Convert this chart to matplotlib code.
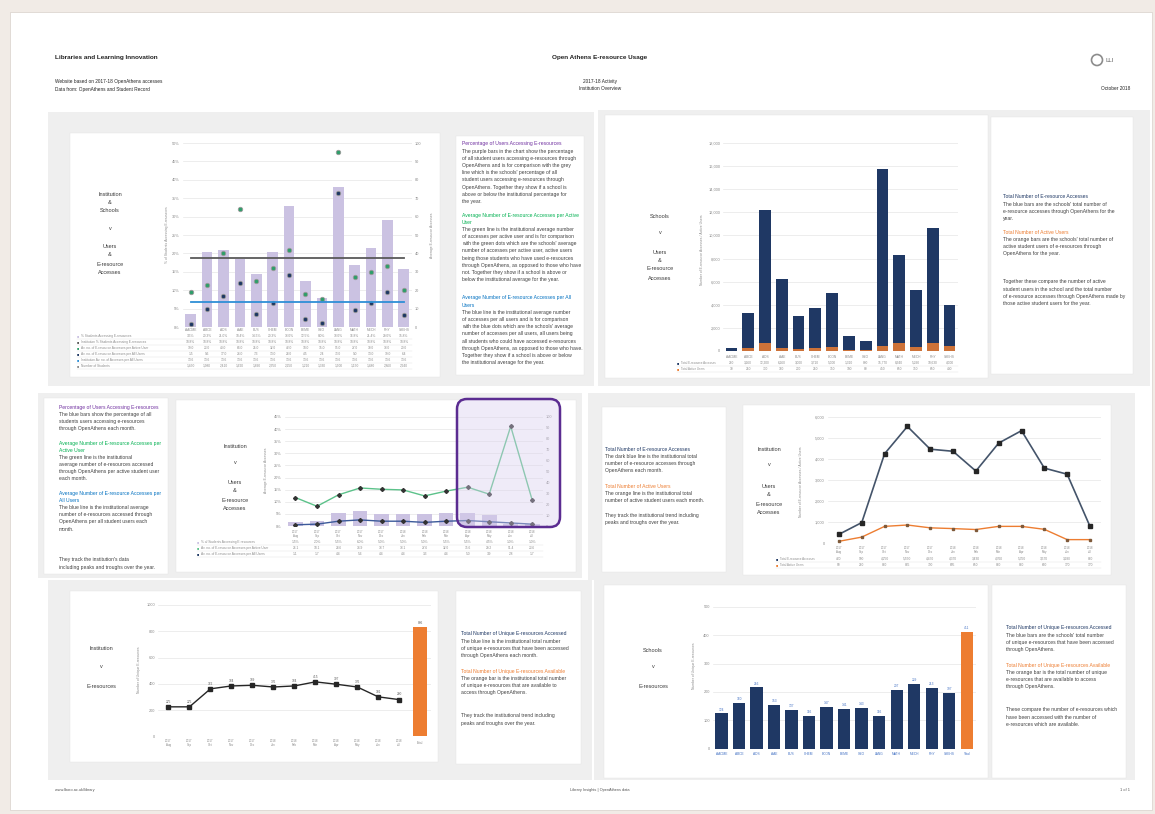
# OpenAthens e-resource usage dashboard, 2017-18.
# Six small panels on one page, each a chart card plus a text card.

import textwrap
import matplotlib
matplotlib.use('Agg')
import matplotlib.pyplot as plt
from matplotlib import transforms
from matplotlib.patches import Rectangle, FancyBboxPatch, Circle
from matplotlib.lines import Line2D

plt.rcParams['font.family'] = ['Liberation Sans', 'DejaVu Sans']

# ---- data ----
schools = ['AACME', 'ABCE', 'ADS', 'AAE', 'BUS', 'CHEM', 'ECON', 'EEME',
           'GEO', 'LANG', 'MATH', 'MECH', 'PHY', 'SSEHS']
# % of students accessing e-resources (bars, left axis)
pct_users = [3.5, 20.3, 21.0, 18.4, 14.5, 20.3, 33.0, 12.5, 8.0, 38.0, 16.8, 21.4, 29.0, 15.8]
inst_pct = 18.8
# average accesses per active user / per all users (markers, right axis)
acc_active = [19, 23, 40, 64, 25, 32, 42, 18, 15, 95, 27, 30, 33, 20]
acc_all = [1.5, 9.6, 17, 24, 7.3, 13, 28, 4.5, 2.4, 73, 9, 13, 19, 6.4]
inst_all = 13.6
students = [1450, 1980, 2410, 1620, 1890, 2350, 2250, 1210, 1330, 1900, 1150, 1480, 2860, 2940]

# schools: total accesses and active users
school_accesses = [290, 3260, 12200, 6260, 3000, 3710, 5000, 1310, 830, 15770, 8340, 5290, 10630, 4000]
school_users = [30, 250, 700, 300, 200, 250, 350, 100, 80, 450, 650, 350, 650, 400]

# months
months = ['Aug', 'Sep', 'Oct', 'Nov', 'Dec', 'Jan', 'Feb', 'Mar', 'Apr', 'May', 'Jun', 'Jul']
years = ['2017'] * 5 + ['2018'] * 7
m_pct = [1.5, 2.0, 5.5, 6.0, 5.0, 5.0, 5.0, 5.5, 5.5, 4.5, 1.0, 1.0]
m_active = [26.1, 18.1, 28.6, 34.9, 33.7, 33.1, 27.6, 32.0, 35.6, 29.2, 91.4, 23.6]
m_all = [1.1, 1.7, 4.4, 5.6, 4.4, 4.4, 3.3, 4.4, 5.0, 3.9, 2.8, 1.7]
m_accesses = [420, 980, 4250, 5550, 4470, 4370, 3430, 4760, 5350, 3570, 3280, 800]
m_users = [90, 290, 800, 865, 730, 695, 650, 800, 800, 660, 170, 170]

# unique e-resources
m_unique = [225, 225, 362, 384, 389, 376, 384, 415, 397, 376, 301, 280]
total_available = 836
s_unique = [124, 160, 216, 153, 137, 116, 147, 141, 143, 116, 207, 229, 213, 197]
s_total = 411

# colours
PURPLE = '#7030a0'
GREEN = '#00b050'
BLUE = '#0070c0'
NAVY = '#1f3864'
ORANGE = '#ed7d31'
LAV = '#cbc2e2'
BODY = '#404040'
TICK = '#8a8a8a'

W, H = 1155, 814
fig = plt.figure(figsize=(W / 100, H / 100), dpi=100)
fig.patch.set_facecolor('#f1ebe6')


def box(x0, y0, x1, y1, fc, ec='none', z=-5, lw=0.5):
    fig.add_artist(Rectangle((x0 / W, 1 - y1 / H), (x1 - x0) / W, (y1 - y0) / H,
                             transform=fig.transFigure, fc=fc, ec=ec, lw=lw, zorder=z))


def add_ax(x0, y0, x1, y1):
    return fig.add_axes([x0 / W, 1 - y1 / H, (x1 - x0) / W, (y1 - y0) / H])


def txt(x, y, s, size=3.6, color=BODY, ha='left', weight='normal', rot=0):
    fig.text(x / W, 1 - y / H, s, fontsize=size, color=color, ha=ha, va='center',
             fontweight=weight, rotation=rot)


def block(x, y, heading, body, hcolor, width, lh=7.2):
    # heading then wrapped body text, returns next y
    for line in textwrap.wrap(heading, width):
        txt(x, y, line, color=hcolor)
        y += lh
    for line in textwrap.wrap(body, width):
        txt(x, y, line)
        y += lh
    return y


def para(x, y, body, width, lh=7.2):
    for line in textwrap.wrap(body, width):
        txt(x, y, line)
        y += lh


def side(x, items):
    for y, s in items:
        txt(x, y, s, size=4, color='#3a3a3a', ha='center')


def style(ax, grid=True):
    for s in ax.spines.values():
        s.set_visible(False)
    ax.tick_params(length=0, labelsize=2.8, labelcolor=TICK, pad=2)
    ax.set_facecolor('none')
    ax.set_xticks([])
    if grid:
        ax.yaxis.grid(True, color='#e6e6e6', lw=0.5)
        ax.set_axisbelow(True)


def table(ax, rows, ys, label_x, right_x, lsize=2.3):
    tr = transforms.blended_transform_factory(ax.transData, fig.transFigure)
    for (label, vals, fmt, col), y in zip(rows, ys):
        txt(label_x, y, '\u25a0', size=2.6, color=col)
        txt(label_x + 4, y, label, size=lsize, color=TICK)
        for i, v in enumerate(vals):
            ax.text(i, 1 - y / H, fmt.format(v), transform=tr, fontsize=2.3, color=TICK,
                    ha='center', va='center', clip_on=False)
        fig.add_artist(Line2D([label_x / W, right_x / W], [1 - (y + 3) / H] * 2,
                              transform=fig.transFigure, color='#e2e2e2', lw=0.3))


def cats(ax, y, labels, color=TICK, size=2.3):
    tr = transforms.blended_transform_factory(ax.transData, fig.transFigure)
    for i, s in enumerate(labels):
        ax.text(i, 1 - y / H, s, transform=tr, fontsize=size, color=color,
                ha='center', va='center', clip_on=False, linespacing=1.1)


# ---- page, grey panels, white cards ----
box(10, 12, 1152, 810, 'white', ec='#d8d0ca', z=-10)
for g in [(48, 112, 594, 386), (598, 110, 1150, 386), (38, 393, 582, 578),
          (588, 393, 1135, 580), (48, 580, 592, 780), (594, 580, 1135, 780)]:
    box(*g, '#efefef', z=-8)
for c in [(70, 133, 440, 377), (456, 136, 584, 375), (605, 115, 988, 378),
          (991, 117, 1133, 374), (44, 398, 168, 574), (176, 400, 576, 572),
          (602, 407, 726, 572), (743, 405, 1111, 575), (70, 591, 438, 762),
          (456, 591, 581, 764), (604, 585, 988, 778), (992, 585, 1126, 778)]:
    box(*c, 'white', ec='#e4e4e4', z=-6, lw=0.3)

# ---- header / footer ----
txt(55, 57, 'Libraries and Learning Innovation', size=4.6, color='#222', weight='bold')
txt(600, 57, 'Open Athens E-resource Usage', size=4.6, color='#222', ha='center', weight='bold')
txt(55, 82, 'Website based on 2017-18 OpenAthens accesses', size=3.4, color='#222')
txt(55, 89, 'Data from: OpenAthens and Student Record', size=3.4, color='#222')
txt(600, 82, '2017-18 Activity', size=3.4, color='#222', ha='center')
txt(600, 89, 'Institution Overview', size=3.4, color='#222', ha='center')
txt(1130, 89, 'October 2018', size=3.4, color='#222', ha='right')
fig.add_artist(Circle((1097 / 100, (H - 60) / 100), 0.055, transform=fig.dpi_scale_trans,
                      fc='white', ec='#8c8c8c', lw=1.2))
txt(1106, 60, 'LLI', size=4, color='#8c8c8c', weight='bold')
txt(55, 790, 'www.lboro.ac.uk/library', size=2.8, color='#555')
txt(600, 790, 'Library Insights | OpenAthens data', size=2.8, color='#555', ha='center')
txt(1130, 790, '1 of 1', size=2.8, color='#555', ha='right')

# ---- chart 1: schools, users & accesses ----
x = list(range(len(schools)))
ax1 = add_ax(182.5, 143, 412, 327)
ax1.bar(x, pct_users, width=0.65, color=LAV)
ax1.plot(x, [inst_pct] * len(x), color='#595959', lw=1.3)
ax1.set_xlim(-0.5, len(x) - 0.5)
ax1.set_ylim(0, 50)
ax1.set_yticks(range(0, 51, 5))
ax1.set_yticklabels([f'{t}%' for t in range(0, 51, 5)])
style(ax1)
ax1b = ax1.twinx()
ax1b.plot(x, acc_active, 'o', ms=3.2, mfc='#2e9e6a', mec='#9a9a9a', mew=0.6)
ax1b.plot(x, acc_all, 'o', ms=3.2, mfc=NAVY, mec='#9a9a9a', mew=0.6)
ax1b.plot(x, [inst_all] * len(x), color='#2e8fd6', lw=1.3)
ax1b.set_ylim(0, 100)
ax1b.set_yticks(range(0, 101, 10))
style(ax1b, grid=False)
txt(167, 235, '% of Students Accessing E-resources', size=2.4, color=TICK, ha='center', rot=90)
txt(432, 235, 'Average E-resource Accesses', size=2.4, color=TICK, ha='center', rot=90)
side(110, [(194, 'Institution'), (202, '&'), (210, 'Schools'), (228, 'v'),
           (247, 'Users'), (255, '&'), (265, 'E-resource'), (273, 'Accesses')])
cats(ax1, 330, schools)
rows1 = [('% Students Accessing E-resources', pct_users, '{:.1f}%', LAV),
         ('Institution % Students Accessing E-resources', [inst_pct] * 14, '{:.1f}%', '#595959'),
         ('Av. no. of E-resource Accesses per Active User', acc_active, '{:.1f}', '#2e9e6a'),
         ('Av. no. of E-resource Accesses per All Users', acc_all, '{:.1f}', NAVY),
         ('Institution Av. no. of Accesses per All Users', [inst_all] * 14, '{:.1f}', '#2e8fd6'),
         ('Number of Students', students, '{:,}', TICK)]
table(ax1, rows1, [336, 342, 348, 354, 360, 366], 77, 412)

# text card 1
block(462, 144, 'Percentage of Users Accessing E-resources',
      "The purple bars in the chart show the percentage of all student users accessing "
      "e-resources through OpenAthens and is for comparison with the grey line which is "
      "the schools' percentage of all student users accessing e-resources through "
      "OpenAthens. Together they show if a school is above or below the institutional "
      "percentage for the year.", PURPLE, 50)
block(462, 215, 'Average Number of E-resource Accesses per Active User',
      "The green line is the institutional average number of accesses per active user and "
      "is for comparison with the green dots which are the schools' average number of "
      "accesses per active user, active users being those students who have used "
      "e-resources through OpenAthens, as opposed to those who have not. Together they "
      "show if a school is above or below the institutional average for the year.", GREEN, 50)
block(462, 298, 'Average Number of E-resource Accesses per All Users',
      "The blue line is the institutional average number of accesses per all users and is "
      "for comparison with the blue dots which are the schools' average number of accesses "
      "per all users, all users being all students who could have accessed e-resources "
      "through OpenAthens, as opposed to those who have. Together they show if a school "
      "is above or below the institutional average for the year.", BLUE, 50)

# ---- chart 2: schools, accesses & active users ----
ax2 = add_ax(723, 143, 958, 351)
ax2.bar(x, school_accesses, width=0.7, color=NAVY)
ax2.bar(x, school_users, width=0.7, color=ORANGE, alpha=0.85)
ax2.set_xlim(-0.5, len(x) - 0.5)
ax2.set_ylim(0, 18000)
ax2.set_yticks(range(0, 18001, 2000))
ax2.set_yticklabels([f'{t:,}' for t in range(0, 18001, 2000)])
style(ax2)
txt(702, 250, 'Number of E-resource Accesses / Active Users', size=2.4, color=TICK, ha='center', rot=90)
side(660, [(216, 'Schools'), (233, 'v'), (252, 'Users'), (260, '&'),
           (269, 'E-resource'), (278, 'Accesses')])
cats(ax2, 357, schools)
rows2 = [('Total E-resource Accesses', school_accesses, '{:,}', NAVY),
         ('Total Active Users', school_users, '{:,}', ORANGE)]
table(ax2, rows2, [363, 369], 677, 958, lsize=2.1)

block(1003, 197, 'Total Number of E-resource Accesses',
      "The blue bars are the schools' total number of e-resource accesses through "
      "OpenAthens for the year.", NAVY, 49)
block(1003, 232, 'Total Number of Active Users',
      "The orange bars are the schools' total number of active student users of "
      "e-resources through OpenAthens for the year.", ORANGE, 49)
para(1003, 282, "Together these compare the number of active student users in the school and "
     "the total number of e-resource accesses through OpenAthens made by those active "
     "student users for the year.", 49)

# ---- chart 3: institution, monthly users & accesses ----
xm = list(range(len(months)))
ax3 = add_ax(284.7, 417, 543, 526)
ax3.bar(xm, m_pct, width=0.68, color=LAV)
ax3.set_xlim(-0.5, len(xm) - 0.5)
ax3.set_ylim(0, 45)
ax3.set_yticks(range(0, 46, 5))
ax3.set_yticklabels([f'{t}%' for t in range(0, 46, 5)])
style(ax3)
ax3b = ax3.twinx()
ax3b.plot(xm, m_active, color='#5cc28a', lw=1.0, marker='D', ms=2, mfc='#333', mec='#333')
ax3b.plot(xm, m_all, color='#3c5a9a', lw=1.0, marker='D', ms=2, mfc='#333', mec='#333')
ax3b.set_ylim(0, 100)
ax3b.set_yticks(range(0, 101, 10))
style(ax3b, grid=False)
txt(266, 470, 'Average E-resource Accesses', size=2.4, color=TICK, ha='center', rot=90)
side(235, [(447, 'Institution'), (462, 'v'), (483, 'Users'), (491, '&'),
           (500, 'E-resource'), (509, 'Accesses')])
cats(ax3, 534, [f'{yy}\n{mm}' for yy, mm in zip(years, months)], size=2.1)
rows3 = [('% of Students Accessing E-resources', m_pct, '{:.1f}%', LAV),
         ('Av. no. of E-resource Accesses per Active User', m_active, '{:.1f}', '#5cc28a'),
         ('Av. no. of E-resource Accesses per All Users', m_all, '{:.1f}', NAVY)]
table(ax3, rows3, [542, 548, 554], 197, 543)
# highlight round the June peak
fig.add_artist(FancyBboxPatch((457 / 100, (H - 527) / 100), 1.03, 1.28,
                              boxstyle='round,pad=0,rounding_size=0.1',
                              transform=fig.dpi_scale_trans, fc='#d9cfee', alpha=0.4,
                              ec='none', zorder=5))
fig.add_artist(FancyBboxPatch((457 / 100, (H - 527) / 100), 1.03, 1.28,
                              boxstyle='round,pad=0,rounding_size=0.1',
                              transform=fig.dpi_scale_trans, fc='none',
                              ec='#5b2c91', lw=1.8, zorder=6))

block(59, 407, 'Percentage of Users Accessing E-resources',
      "The blue bars show the percentage of all students users accessing e-resources "
      "through OpenAthens each month.", PURPLE, 42)
block(59, 443, 'Average Number of E-resource Accesses per Active User',
      "The green line is the institutional average number of e-resources accessed "
      "through OpenAthens per active student user each month.", GREEN, 42)
block(59, 493, 'Average Number of E-resource Accesses per All Users',
      "The blue line is the institutional average number of e-resources accessed "
      "through OpenAthens per all student users each month.", BLUE, 42)
para(59, 560, "They track the institution's data including peaks and troughs over the year.", 42)

# ---- chart 4: institution, monthly accesses & active users ----
ax4 = add_ax(827.5, 417, 1101.4, 543.2)
ax4.plot(xm, m_accesses, color='#44546a', lw=1.2, marker='s', ms=2.2, mfc='#262626', mec='#262626')
ax4.plot(xm, m_users, color=ORANGE, lw=1.0, marker='s', ms=2, mfc='#7f5a3a', mec='#7f5a3a')
ax4.set_xlim(-0.5, len(xm) - 0.5)
ax4.set_ylim(0, 6000)
ax4.set_yticks(range(0, 6001, 1000))
ax4.set_yticklabels([f'{t:,}' for t in range(0, 6001, 1000)])
style(ax4)
txt(801, 482, 'Number of E-resource Accesses / Active Users', size=2.4, color=TICK, ha='center', rot=90)
side(769, [(449, 'Institution'), (465, 'v'), (486, 'Users'), (495, '&'),
           (504, 'E-resource'), (513, 'Accesses')])
cats(ax4, 550, [f'{yy}\n{mm}' for yy, mm in zip(years, months)], size=2.1)
rows4 = [('Total E-resource Accesses', m_accesses, '{:,}', NAVY),
         ('Total Active Users', m_users, '{:,}', ORANGE)]
table(ax4, rows4, [559, 565], 776, 1101, lsize=2.1)

block(605, 449, 'Total Number of E-resource Accesses',
      "The dark blue line is the institutional total number of e-resource accesses "
      "through OpenAthens each month.", NAVY, 47)
block(605, 486, 'Total Number of Active Users',
      "The orange line is the institutional total number of active student users "
      "each month.", ORANGE, 47)
para(605, 515, "They track the institutional trend including peaks and troughs over the year.", 47)

# ---- chart 5: institution, unique e-resources ----
ax5 = add_ax(158, 605, 430.7, 736.4)
ax5.plot(xm, m_unique, color='#262626', lw=1.0, marker='s', ms=2.3)
ax5.bar([len(months)], [total_available], width=0.68, color=ORANGE)
ax5.set_xlim(-0.5, len(months) + 0.5)
ax5.set_ylim(0, 1000)
ax5.set_yticks(range(0, 1001, 200))
style(ax5)
for i, v in enumerate(m_unique):
    ax5.annotate(str(v), (i, v), xytext=(0, 3), textcoords='offset points',
                 fontsize=2.3, ha='center', color='#595959')
ax5.annotate(str(total_available), (len(months), total_available), xytext=(0, 2),
             textcoords='offset points', fontsize=2.3, ha='center', color='#595959')
txt(139, 670, 'Number of Unique E-resources', size=2.4, color=TICK, ha='center', rot=90)
side(101, [(648, 'Institution'), (666, 'v'), (686, 'E-resources')])
cats(ax5, 743, [f'{yy}\n{mm}' for yy, mm in zip(years, months)] + ['Total'], size=2.1)

block(461, 634, 'Total Number of Unique E-resources Accessed',
      "The blue line is the institutional total number of unique e-resources that have "
      "been accessed through OpenAthens each month.", NAVY, 48)
block(461, 671, 'Total Number of Unique E-resources Available',
      "The orange bar is the institutional total number of unique e-resources that are "
      "available to access through OpenAthens.", ORANGE, 48)
para(461, 716, "They track the institutional trend including peaks and troughs over the year.", 48)

# ---- chart 6: schools, unique e-resources ----
ax6 = add_ax(712.6, 606.8, 975.6, 748.6)
ax6.bar(x, s_unique, width=0.7, color=NAVY)
ax6.bar([len(schools)], [s_total], width=0.7, color=ORANGE)
ax6.set_xlim(-0.5, len(schools) + 0.5)
ax6.set_ylim(0, 500)
ax6.set_yticks(range(0, 501, 100))
style(ax6)
for i, v in enumerate(s_unique):
    ax6.annotate(str(v), (i, v), xytext=(0, 2), textcoords='offset points',
                 fontsize=2.3, ha='center', color='#4472c4')
ax6.annotate(str(s_total), (len(schools), s_total), xytext=(0, 2),
             textcoords='offset points', fontsize=2.3, ha='center', color='#4472c4')
txt(694, 666, 'Number of Unique E-resources', size=2.4, color=TICK, ha='center', rot=90)
side(653, [(650, 'Schools'), (667, 'v'), (687, 'E-resources')])
cats(ax6, 754, schools + ['Total'], color='#4472c4')

block(1006, 628, 'Total Number of Unique E-resources Accessed',
      "The blue bars are the schools' total number of unique e-resources that have been "
      "accessed through OpenAthens.", NAVY, 45)
block(1006, 665, 'Total Number of Unique E-resources Available',
      "The orange bar is the total number of unique e-resources that are available to "
      "access through OpenAthens.", ORANGE, 45)
para(1006, 710, "These compare the number of e-resources which have been accessed with the "
     "number of e-resources which are available.", 45)

fig.savefig('out.png', dpi=100, facecolor=fig.get_facecolor())
